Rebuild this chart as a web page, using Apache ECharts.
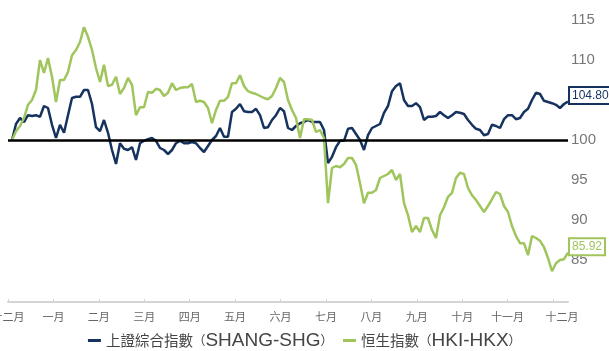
<!DOCTYPE html>
<html>
<head>
<meta charset="utf-8">
<script src="https://cdn.jsdelivr.net/npm/echarts@6/dist/echarts.min.js"></script>
<style>
html,body{margin:0;padding:0;background:#fff;}
#chart{width:609px;height:351px;}
</style>
</head>
<body>
<div id="chart"></div>
<script>
// Month tick labels along the bottom axis
const monthLabels = ['十二月','一月','二月','三月','四月','五月','六月','七月','八月','九月','十月','十一月','十二月'];
// Y tick labels shown
const yTicks = [85, 90, 95, 100, 105, 110, 115];
// Series names (Chinese part and code part)
const seriesCJK = ['上證綜合指數', '恒生指數'];
const seriesCode = ['SHANG-SHG', 'HKI-HKX'];
const seriesNames = seriesCJK.map((c, i) => c + '（' + seriesCode[i] + '）');

// Shanghai Composite (rebased to 100), sampled along the period
const shanghai = [
  100.0, 102.0, 102.75, 102.25, 103.1, 103.0, 103.1, 102.9, 104.25, 104.0,
  101.9, 100.25, 101.9, 100.9, 103.1, 105.25, 105.4, 105.4, 106.25, 106.25,
  104.5, 101.6, 101.1, 102.5, 100.9, 98.75, 97.0, 99.6, 98.9, 98.75,
  99.1, 97.5, 99.6, 99.9, 100.1, 100.25, 99.9, 99.0, 98.75, 98.25,
  98.75, 99.6, 99.9, 99.6, 99.6, 99.75, 99.6, 99.0, 98.5, 99.25,
  100.0, 100.5, 101.5, 100.4, 100.4, 103.5, 103.9, 104.5, 103.6, 103.5,
  103.5, 103.9, 103.1, 101.5, 101.6, 102.5, 103.1, 104.0, 103.6, 101.5,
  101.25, 101.75, 102.1, 102.25, 102.5, 102.25, 102.25, 102.25, 101.25, 97.1,
  97.9, 99.1, 99.9, 99.9, 101.4, 101.5, 100.75, 100.0, 98.75, 100.6,
  101.5, 101.75, 102.0, 103.4, 104.25, 106.1, 106.75, 107.1, 105.0, 104.25,
  104.25, 104.6, 104.1, 102.5, 102.9, 102.9, 103.0, 103.5, 103.1, 102.75,
  103.1, 103.5, 103.4, 103.25, 102.5, 101.9, 101.4, 101.25, 100.6, 100.75,
  101.9, 101.75, 101.5, 102.6, 103.1, 103.1, 102.6, 102.75, 103.5, 103.9,
  105.0, 105.9, 105.75, 104.9, 104.75, 104.6, 104.4, 104.0, 104.5, 104.8
];

// Hang Seng Index (rebased to 100)
const hangseng = [
  100.0, 101.1, 101.75, 102.75, 104.4, 105.0, 106.25, 110.0, 108.4, 110.25,
  107.9, 104.75, 107.5, 107.5, 108.5, 110.6, 111.25, 112.25, 114.1, 112.9,
  111.25, 109.0, 107.25, 109.4, 106.75, 106.9, 107.9, 105.75, 106.5, 107.75,
  106.9, 103.1, 104.1, 104.1, 106.0, 105.9, 106.4, 106.25, 105.5, 105.9,
  107.1, 106.25, 106.5, 106.6, 106.6, 107.0, 104.75, 104.9, 104.75, 104.0,
  102.1, 103.75, 104.9, 104.9, 105.4, 107.1, 107.1, 108.1, 106.75, 106.1,
  105.9, 105.75, 105.5, 105.25, 105.1, 105.5, 106.5, 107.75, 107.25, 105.0,
  103.75, 102.75, 100.25, 102.6, 102.6, 102.5, 101.0, 101.25, 100.25, 92.1,
  96.5, 96.75, 96.6, 97.0, 97.75, 97.75, 96.9, 94.6, 92.1, 93.4,
  93.4, 93.75, 95.25, 95.5, 95.75, 96.25, 95.0, 95.75, 92.1, 90.6,
  88.5, 89.25, 88.5, 90.25, 90.25, 88.75, 87.75, 90.6, 91.6, 92.9,
  93.4, 95.25, 95.9, 95.75, 94.0, 93.1, 92.5, 91.75, 91.0, 91.75,
  92.6, 93.5, 93.25, 91.75, 91.0, 89.25, 88.0, 87.1, 87.1, 85.6,
  88.0, 87.75, 87.4, 86.6, 85.25, 83.6, 84.6, 85.0, 85.1, 85.92
];

const baseLevel = 100;

// category slots: one leading empty slot, then one per sample
const slots = [''].concat(shanghai.map((_, i) => 'd' + (i + 1)));
const shData = [null].concat(shanghai);
const hsData = [null].concat(hangseng);

const navy = '#15335e';
const green = '#9fc55c';
const FONT = "'Liberation Sans', 'Noto Sans CJK TC', sans-serif";
const CJKFONT = "'Noto Sans CJK TC', sans-serif";

const chart = echarts.init(document.getElementById('chart'), null, {renderer: 'canvas'});

function endLabel(color) {
  return {
    show: true,
    formatter: p => Number(p.value).toFixed(2),
    color: color,
    fontFamily: FONT,
    fontSize: 12,
    backgroundColor: '#fff',
    borderColor: color,
    borderWidth: 2,
    padding: [2, 2, 1, 2],
    distance: 2,
    offset: [0, -6]
  };
}

chart.setOption({
  animation: false,
  backgroundColor: '#fff',
  grid: {left: 8, right: 41, top: 0, bottom: 51, containLabel: false, outerBoundsMode: 'none'},
  legend: {
    data: seriesNames,
    top: 326,
    left: 'center',
    icon: 'rect',
    itemWidth: 13,
    itemHeight: 3,
    itemGap: 10,
    formatter: name => {
      const i = seriesNames.indexOf(name);
      return '{c|' + seriesCJK[i] + '}{p|（}{l|' + seriesCode[i] + '}{p|）}';
    },
    textStyle: {
      color: '#444',
      rich: {
        c: {fontFamily: CJKFONT, fontSize: 14.5, color: '#444'},
        p: {fontFamily: CJKFONT, fontSize: 12.5, color: '#444'},
        l: {fontFamily: "'Liberation Sans', sans-serif", fontSize: 19, color: '#444'}
      }
    }
  },
  xAxis: [
    {
      type: 'category',
      data: slots,
      boundaryGap: false,
      show: false
    },
    {
      type: 'value',
      min: 0,
      max: 12.33,
      interval: 1,
      position: 'bottom',
      offset: 2,
      axisLine: {show: true, lineStyle: {color: '#d4d4d4', width: 2}},
      axisTick: {show: true, inside: true, length: 3, lineStyle: {color: '#d4d4d4'}},
      splitLine: {show: false},
      axisLabel: {
        show: true,
        margin: 10,
        fontFamily: FONT,
        fontSize: 11,
        color: '#666',
        showMaxLabel: false,
        formatter: v => {
          if (!Number.isInteger(v) || v < 0 || v > 12) return '';
          return v === 12 ? '{last|' + monthLabels[v] + '}' : monthLabels[v];
        },
        rich: {last: {fontFamily: FONT, fontSize: 11, color: '#666', padding: [0, 0, 0, 18]}}
      }
    }
  ],
  yAxis: {
    type: 'value',
    position: 'right',
    min: 80,
    max: 117.5,
    interval: 5,
    axisLine: {show: false},
    axisTick: {show: false},
    splitLine: {show: false},
    axisLabel: {
      margin: 3,
      fontFamily: FONT,
      fontSize: 15,
      color: '#777',
      formatter: v => (yTicks.indexOf(v) >= 0 ? String(v) : '')
    }
  },
  series: [
    {
      name: seriesNames[0],
      type: 'line',
      xAxisIndex: 0,
      data: shData,
      symbol: 'none',
      lineStyle: {color: navy, width: 2.5},
      itemStyle: {color: navy},
      endLabel: endLabel(navy),
      z: 3
    },
    {
      name: seriesNames[1],
      type: 'line',
      xAxisIndex: 0,
      data: hsData,
      symbol: 'none',
      lineStyle: {color: green, width: 2.5},
      itemStyle: {color: green},
      endLabel: endLabel(green),
      z: 4,
      markLine: {
        silent: true,
        symbol: 'none',
        label: {show: false},
        lineStyle: {color: '#000', width: 2.5, type: 'solid'},
        data: [{yAxis: baseLevel}]
      }
    }
  ]
});
</script>
</body>
</html>
